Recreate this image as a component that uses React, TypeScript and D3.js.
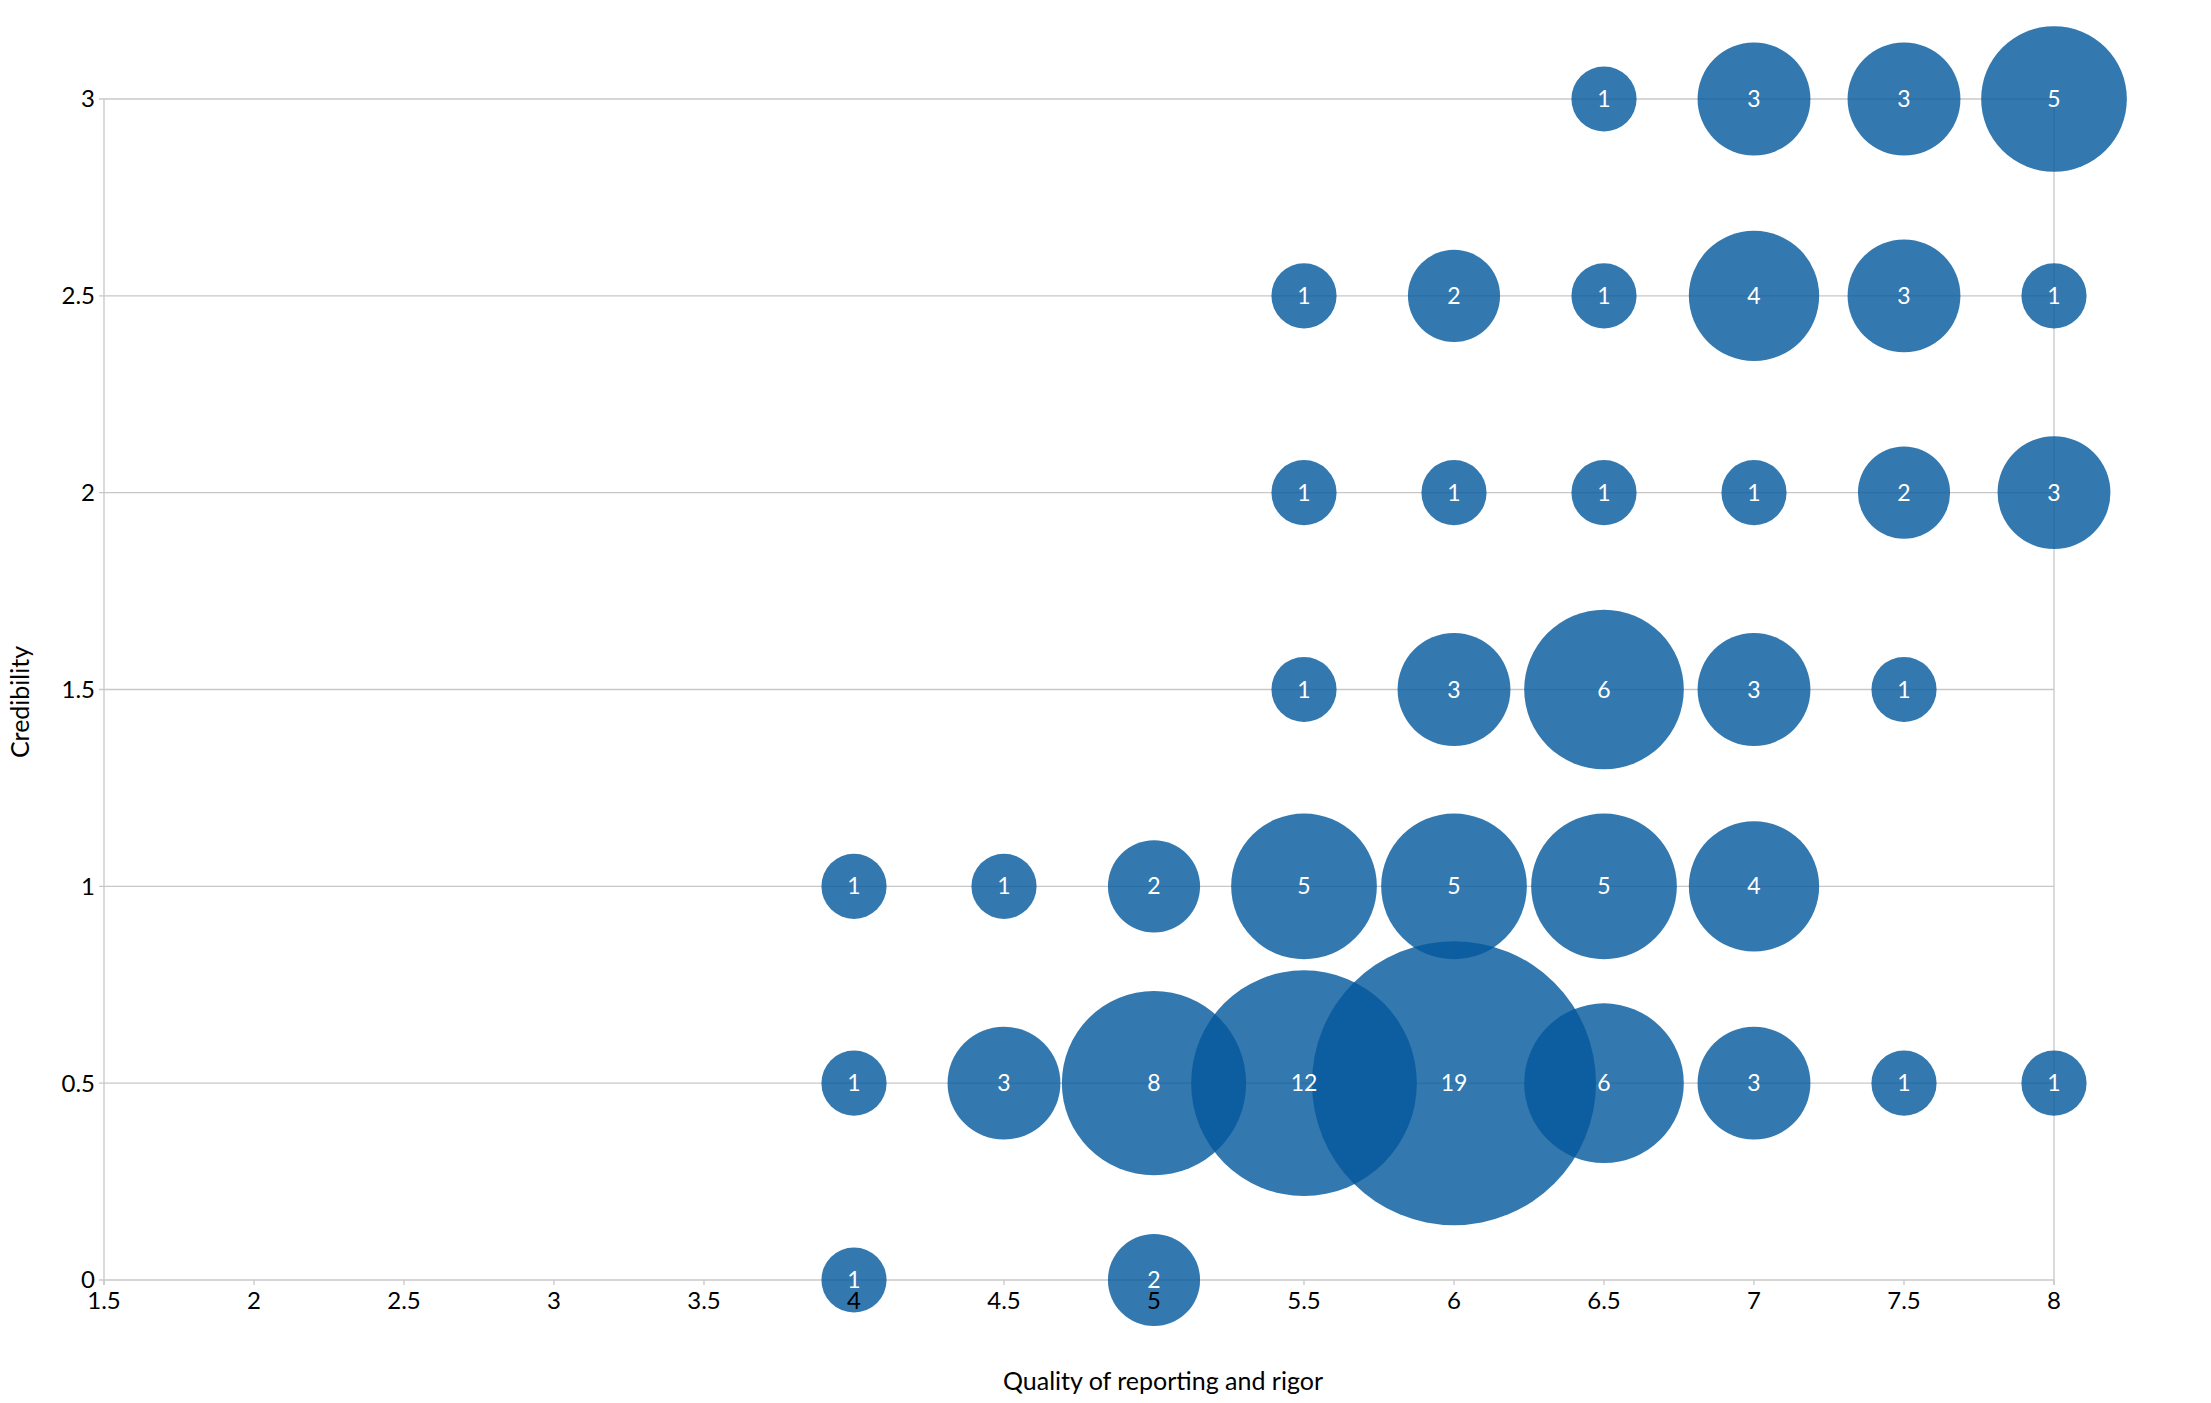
import React from 'react';
import * as d3 from 'd3';

// x = quality of reporting and rigor, y = credibility, n = number of studies
const xValues = [6.5, 7, 7.5, 8, 5.5, 6, 6.5, 7, 7.5, 8, 5.5, 6, 6.5, 7, 7.5, 8, 5.5, 6, 6.5, 7, 7.5, 4, 4.5, 5, 5.5, 6, 6.5, 7, 4, 4.5, 5, 5.5, 6, 6.5, 7, 7.5, 8, 4, 5];
const yValues = [3, 3, 3, 3, 2.5, 2.5, 2.5, 2.5, 2.5, 2.5, 2, 2, 2, 2, 2, 2, 1.5, 1.5, 1.5, 1.5, 1.5, 1, 1, 1, 1, 1, 1, 1, 0.5, 0.5, 0.5, 0.5, 0.5, 0.5, 0.5, 0.5, 0.5, 0, 0];
const counts = [1, 3, 3, 5, 1, 2, 1, 4, 3, 1, 1, 1, 1, 1, 2, 3, 1, 3, 6, 3, 1, 1, 1, 2, 5, 5, 5, 4, 1, 3, 8, 12, 19, 6, 3, 1, 1, 1, 2];

const xTicks = [1.5, 2, 2.5, 3, 3.5, 4, 4.5, 5, 5.5, 6, 6.5, 7, 7.5, 8];
const yTicks = [0, 0.5, 1, 1.5, 2, 2.5, 3];

const W = 2211;
const H = 1403;
const FONT = 'Lato, "Open Sans", sans-serif';

const App: React.FC = () => {
  const left = 104;
  const right = 2054;
  const top = 99;
  const bottom = 1280;

  const x = d3.scaleLinear().domain([1.5, 8]).range([left, right]);
  const y = d3.scaleLinear().domain([0, 3]).range([bottom, top]);
  const r = d3.scaleSqrt().domain([0, 19]).range([0, 142]);

  const points = counts.map((n, i) => ({ x: xValues[i], y: yValues[i], n }));

  return (
    <svg width={W} height={H} style={{ position: 'absolute', left: 0, top: 0 }} fontFamily={FONT}>
      <rect width={W} height={H} fill="#fff" />
      {/* grid */}
      {yTicks.map((t) => (
        <line key={'gy' + t} x1={left - 5} x2={right} y1={y(t)} y2={y(t)} stroke="#c8c8c8" strokeWidth={1.3} />
      ))}
      <line x1={left} x2={left} y1={top} y2={bottom + 5} stroke="#c8c8c8" strokeWidth={1.3} />
      <line x1={right} x2={right} y1={top} y2={bottom + 5} stroke="#c8c8c8" strokeWidth={1.3} />
      {xTicks.map((t) => (
        <line key={'tx' + t} x1={x(t)} x2={x(t)} y1={bottom} y2={bottom + 5} stroke="#c8c8c8" strokeWidth={1.3} />
      ))}

      {/* bubbles */}
      {points.map((d, i) => (
        <circle key={'c' + i} cx={x(d.x)} cy={y(d.y)} r={r(d.n)} fill="rgb(4,89,157)" fillOpacity={0.81} />
      ))}
      {points.map((d, i) => (
        <text
          key={'l' + i}
          x={x(d.x)}
          y={y(d.y)}
          dy="0.35em"
          textAnchor="middle"
          fill="#fff"
          fontSize={23}
        >
          {d.n}
        </text>
      ))}

      {/* tick labels */}
      {xTicks.map((t) => (
        <text key={'xl' + t} x={x(t)} y={bottom + 29} textAnchor="middle" fontSize={24} fill="#000">
          {t}
        </text>
      ))}
      {yTicks.map((t) => (
        <text key={'yl' + t} x={left - 9} y={y(t)} dy="0.35em" textAnchor="end" fontSize={24} fill="#000">
          {t}
        </text>
      ))}

      {/* axis titles */}
      <text x={1163} y={1390} textAnchor="middle" fontSize={25} fill="#000">
        Quality of reporting and rigor
      </text>
      <text
        transform={`translate(${29},${702}) rotate(-90)`}
        textAnchor="middle"
        fontSize={25}
        fill="#000"
      >
        Credibility
      </text>
    </svg>
  );
};

export default App;
